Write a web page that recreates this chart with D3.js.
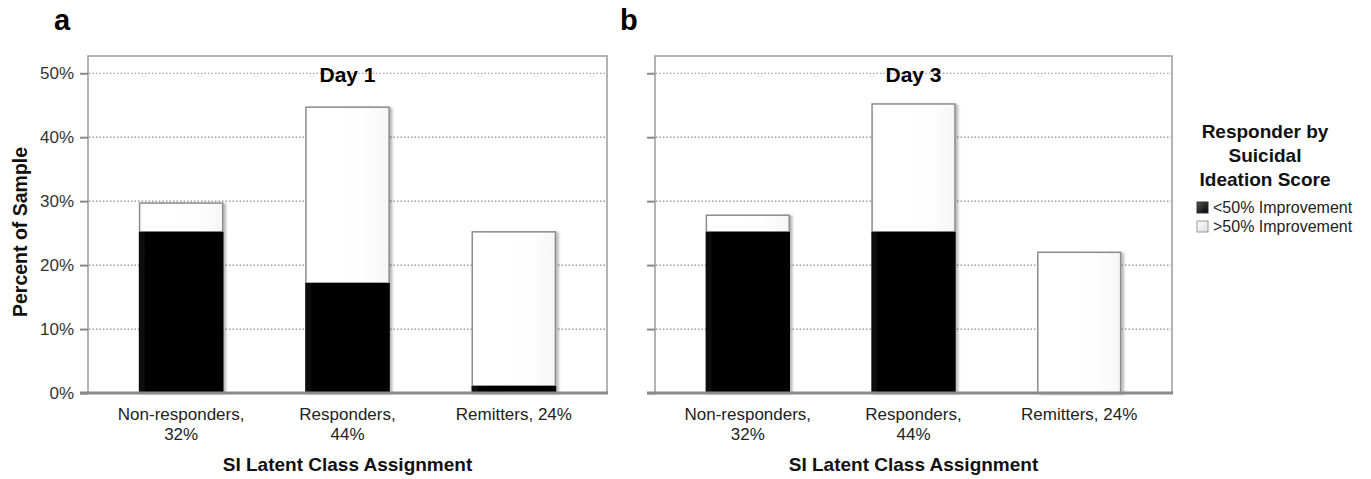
<!DOCTYPE html>
<html>
<head>
<meta charset="utf-8">
<script src="https://cdn.jsdelivr.net/npm/d3@7"></script>
<style>
  html, body { margin: 0; padding: 0; background: #fff; }
  svg { display: block; font-family: "Liberation Sans", Arial, sans-serif; }
</style>
</head>
<body>
<svg id="chart" width="1371" height="479"></svg>
<script>
// Latent class groups on the x axis (label lines)
const categories = ["Non-responders, 32%", "Responders, 44%", "Remitters, 24%"];
const categoryLines = [["Non-responders,", "32%"], ["Responders,", "44%"], ["Remitters, 24%"]];

// Percent of sample in each class, split by suicidal ideation improvement
const day1Below50 = [25.2, 17.2, 1.1];
const day1Above50 = [4.5, 27.5, 24.1];
const day3Below50 = [25.2, 25.2, 0.0];
const day3Above50 = [2.6, 20.0, 22.0];

const yTicks = [0, 10, 20, 30, 40, 50];
const yMax = 52.7;
const seriesKeys = ["below", "above"];
const legendTitle = ["Responder by", "Suicidal", "Ideation Score"];
const legendLabels = ["<50% Improvement", ">50% Improvement"];

const svg = d3.select("#chart");
const defs = svg.append("defs");

// Fills for the two stacked segments
const gBlack = defs.append("linearGradient").attr("id", "gBlack").attr("x1", 0).attr("x2", 1).attr("y1", 0).attr("y2", 0);
gBlack.append("stop").attr("offset", "0%").attr("stop-color", "#0a0a0a");
gBlack.append("stop").attr("offset", "20%").attr("stop-color", "#000");
gBlack.append("stop").attr("offset", "100%").attr("stop-color", "#000");
const gWhite = defs.append("linearGradient").attr("id", "gWhite").attr("x1", 0).attr("x2", 1).attr("y1", 0).attr("y2", 0);
gWhite.append("stop").attr("offset", "0%").attr("stop-color", "#ffffff");
gWhite.append("stop").attr("offset", "70%").attr("stop-color", "#fefefe");
gWhite.append("stop").attr("offset", "100%").attr("stop-color", "#f6f6f6");
const gSwatchDark = defs.append("linearGradient").attr("id", "gSwatchDark").attr("x1", 0).attr("x2", 1).attr("y1", 0).attr("y2", 1);
gSwatchDark.append("stop").attr("offset", "0%").attr("stop-color", "#555");
gSwatchDark.append("stop").attr("offset", "100%").attr("stop-color", "#000");
const gSwatchLight = defs.append("linearGradient").attr("id", "gSwatchLight").attr("x1", 0).attr("x2", 1).attr("y1", 0).attr("y2", 1);
gSwatchLight.append("stop").attr("offset", "0%").attr("stop-color", "#fff");
gSwatchLight.append("stop").attr("offset", "100%").attr("stop-color", "#ddd");

const shadow = defs.append("filter").attr("id", "barShadow").attr("x", "-20%").attr("y", "-20%").attr("width", "140%").attr("height", "140%");
shadow.append("feDropShadow").attr("dx", 2.5).attr("dy", 1).attr("stdDeviation", 1.3)
  .attr("flood-color", "#000").attr("flood-opacity", 0.28);

const plotTop = 56, plotBottom = 393;
const y = d3.scaleLinear().domain([0, yMax]).range([plotBottom, plotTop]);

function drawPanel(opts) {
  const { left, right, title, letter, below, above, showYLabels } = opts;
  const g = svg.append("g");

  const x = d3.scaleBand().domain(categories).range([left, right])
    .paddingInner(0.5).paddingOuter(0.31);

  // panel letter
  g.append("text").attr("x", letter.x).attr("y", 30)
    .attr("font-size", 29).attr("font-weight", "bold").attr("fill", "#000")
    .text(letter.text);

  // plot frame
  g.append("rect").attr("x", left).attr("y", plotTop)
    .attr("width", right - left).attr("height", plotBottom - plotTop)
    .attr("fill", "#fff").attr("stroke", "#9a9a9a").attr("stroke-width", 1.5);

  // dotted gridlines
  g.append("g").selectAll("line").data(yTicks.filter(d => d > 0)).join("line")
    .attr("x1", left + 1).attr("x2", right - 1)
    .attr("y1", d => y(d)).attr("y2", d => y(d))
    .attr("stroke", "#8a8a8a").attr("stroke-width", 1.2)
    .attr("stroke-dasharray", "1.5,2");

  // y axis ticks and labels
  const yAxis = d3.axisLeft(y).tickValues(yTicks).tickSize(8).tickPadding(6)
    .tickFormat(d => showYLabels ? d + "%" : "");
  const ya = g.append("g").attr("transform", `translate(${left},0)`).call(yAxis);
  ya.select(".domain").remove();
  ya.selectAll(".tick line").attr("stroke", "#8a8a8a").attr("stroke-width", 2);
  ya.selectAll(".tick text").attr("font-size", 17).attr("fill", "#333")
    .attr("font-family", "Liberation Sans, Arial, sans-serif");

  // title
  g.append("text").attr("x", (left + right) / 2).attr("y", 82)
    .attr("text-anchor", "middle").attr("font-size", 21).attr("font-weight", "bold")
    .attr("fill", "#000").text(title);

  // stacked bars
  const rows = categories.map((c, i) => ({ cat: c, below: below[i], above: above[i] }));
  const stacked = d3.stack().keys(seriesKeys)(rows);
  const bars = g.append("g").attr("filter", "url(#barShadow)");
  // white (>50%) segment with outline
  bars.selectAll("rect.above").data(stacked[1].filter(d => d[1] - d[0] > 0)).join("rect").attr("class", "above")
    .attr("x", d => x(d.data.cat)).attr("width", x.bandwidth())
    .attr("y", d => y(d[1])).attr("height", d => y(d[0]) - y(d[1]))
    .attr("fill", "url(#gWhite)").attr("stroke", "#8c8c8c").attr("stroke-width", 1.5);
  // black (<50%) segment
  bars.selectAll("rect.below").data(stacked[0].filter(d => d[1] - d[0] > 0)).join("rect").attr("class", "below")
    .attr("x", d => x(d.data.cat) - 0.75).attr("width", x.bandwidth() + 1.5)
    .attr("y", d => y(d[1])).attr("height", d => y(d[0]) - y(d[1]))
    .attr("fill", "url(#gBlack)");

  // baseline
  g.append("line").attr("x1", left - 8).attr("x2", right + 1)
    .attr("y1", plotBottom).attr("y2", plotBottom)
    .attr("stroke", "#8a8a8a").attr("stroke-width", 3);

  // category labels
  const xl = g.append("g");
  categories.forEach((c, i) => {
    const t = xl.append("text").attr("x", x(c) + x.bandwidth() / 2).attr("y", 420)
      .attr("text-anchor", "middle").attr("font-size", 17).attr("fill", "#222");
    categoryLines[i].forEach((line, j) => {
      t.append("tspan").attr("x", x(c) + x.bandwidth() / 2).attr("dy", j === 0 ? 0 : 20).text(line);
    });
  });

  // x axis title
  g.append("text").attr("x", (left + right) / 2).attr("y", 471)
    .attr("text-anchor", "middle").attr("font-size", 19).attr("font-weight", "bold")
    .attr("fill", "#111").text("SI Latent Class Assignment");
}

drawPanel({ left: 88, right: 607, title: "Day 1", letter: { x: 54, text: "a" },
  below: day1Below50, above: day1Above50, showYLabels: true });
drawPanel({ left: 655, right: 1172, title: "Day 3", letter: { x: 620, text: "b" },
  below: day3Below50, above: day3Above50, showYLabels: false });

// y axis title
svg.append("text").attr("transform", "translate(27,232) rotate(-90)")
  .attr("text-anchor", "middle").attr("font-size", 19.5).attr("font-weight", "bold")
  .attr("fill", "#111").text("Percent of Sample");

// legend
const lg = svg.append("g");
lg.selectAll("text.title").data(legendTitle).join("text").attr("class", "title")
  .attr("x", 1265).attr("y", (d, i) => 138 + i * 24)
  .attr("text-anchor", "middle").attr("font-size", 19).attr("font-weight", "bold")
  .attr("fill", "#111").text(d => d);
const items = lg.selectAll("g.item").data(legendLabels).join("g").attr("class", "item")
  .attr("transform", (d, i) => `translate(1197,${202 + i * 19})`);
items.append("rect").attr("width", 11).attr("height", 11)
  .attr("fill", (d, i) => i === 0 ? "url(#gSwatchDark)" : "url(#gSwatchLight)")
  .attr("stroke", (d, i) => i === 0 ? "#333" : "#999").attr("stroke-width", 1);
items.append("text").attr("x", 16).attr("y", 11)
  .attr("font-size", 16).attr("fill", "#222").text(d => d);
</script>
</body>
</html>
